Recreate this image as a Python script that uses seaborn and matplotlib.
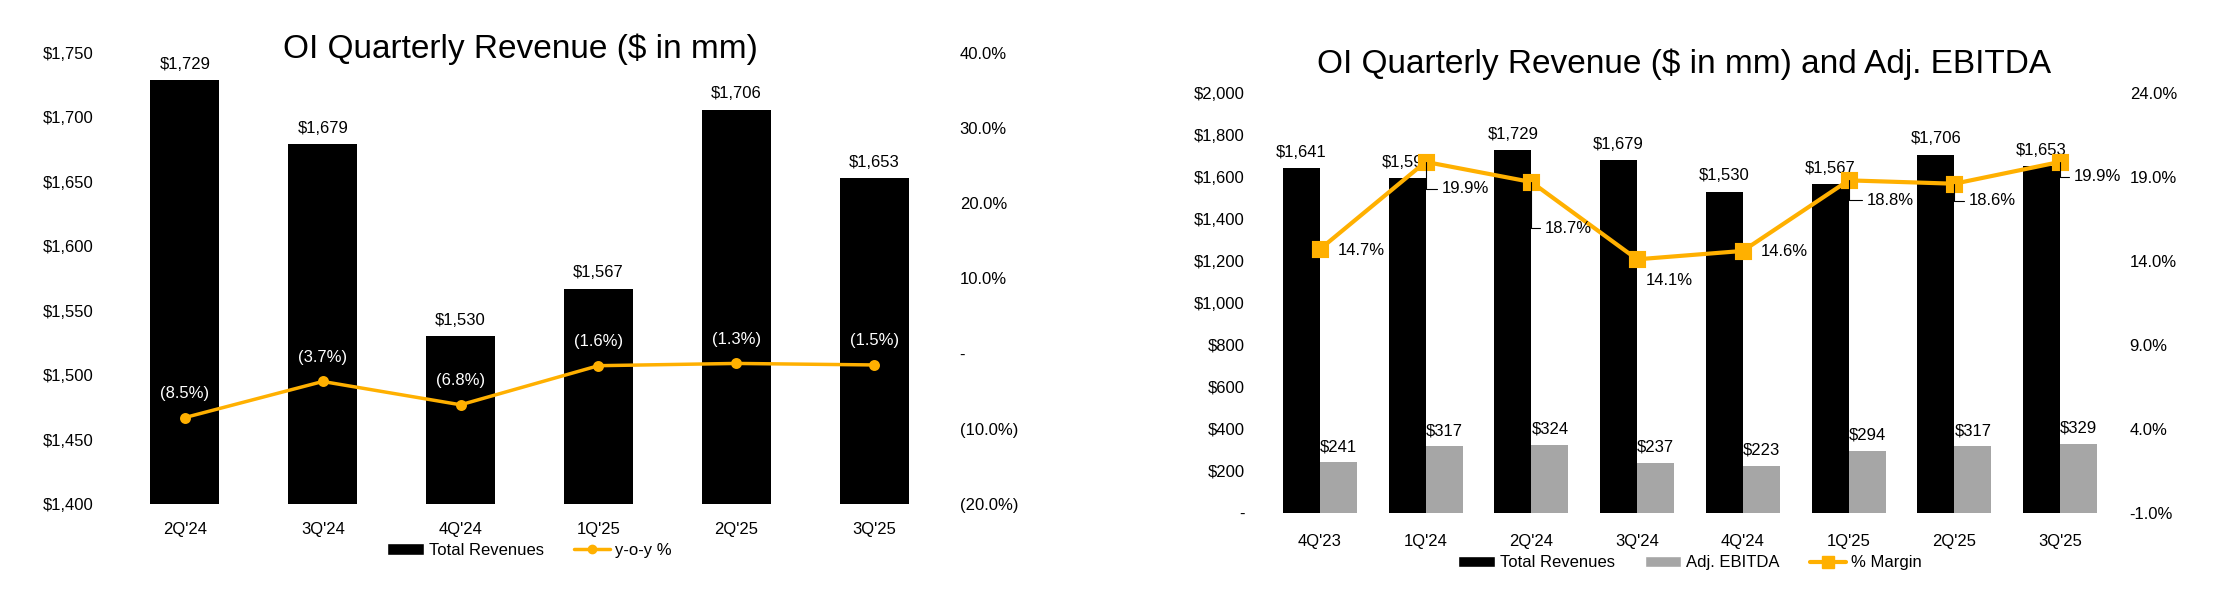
import matplotlib
matplotlib.use("Agg")
import matplotlib.pyplot as plt
from matplotlib.patches import Patch
from matplotlib.lines import Line2D
from matplotlib.ticker import FixedLocator, FuncFormatter
import pandas as pd
import seaborn as sns

# left chart: quarterly revenue and y-o-y change
quarters_l = ["2Q'24", "3Q'24", "4Q'24", "1Q'25", "2Q'25", "3Q'25"]
revenue_l = [1729, 1679, 1530, 1567, 1706, 1653]
yoy_pct = [-8.5, -3.7, -6.8, -1.6, -1.3, -1.5]

# right chart: revenue, adj. EBITDA and margin
quarters_r = ["4Q'23", "1Q'24", "2Q'24", "3Q'24", "4Q'24", "1Q'25", "2Q'25", "3Q'25"]
revenue_r = [1641, 1593, 1729, 1679, 1530, 1567, 1706, 1653]
ebitda_r = [241, 317, 324, 237, 223, 294, 317, 329]
margin_pct = [14.7, 19.9, 18.7, 14.1, 14.6, 18.8, 18.6, 19.9]

ORANGE = "#FFB000"
GRAY = "#A6A6A6"

sns.set_theme(style="white")
plt.rcParams["font.family"] = ["Liberation Sans", "DejaVu Sans"]
plt.rcParams["text.color"] = "black"
plt.rcParams["xtick.color"] = "black"
plt.rcParams["ytick.color"] = "black"

W, H = 2224, 613
fig = plt.figure(figsize=(W / 100, H / 100), dpi=100)


def box(x0, y0, x1, y1):
    # pixel box (top-left origin) -> figure fraction rect
    return [x0 / W, 1 - y1 / H, (x1 - x0) / W, (y1 - y0) / H]


def money(v, pos=None):
    return "-" if v == 0 else f"${v:,.0f}"


def paren_pct(v, pos=None):
    if abs(v) < 1e-9:
        return "-"
    return f"({abs(v):.1f}%)" if v < 0 else f"{v:.1f}%"


def clean(a):
    for sp in a.spines.values():
        sp.set_visible(False)
    a.set_xlabel("")
    a.set_ylabel("")


# ---------------- left chart ----------------
ax = fig.add_axes(box(116, 53, 943, 504))
sns.barplot(x=quarters_l, y=revenue_l, color="black", saturation=1, width=0.5,
            linewidth=0, ax=ax)
ax.set_ylim(1400, 1750)
ax.yaxis.set_major_locator(FixedLocator(range(1400, 1751, 50)))
ax.yaxis.set_major_formatter(FuncFormatter(money))
ax.bar_label(ax.containers[0], labels=[f"${v:,}" for v in revenue_l], padding=6, fontsize=12)

ax2 = ax.twinx()
sns.pointplot(x=quarters_l, y=yoy_pct, color=ORANGE, markers="o", markersize=6,
              linewidth=2.5, ax=ax2)
ax2.set_ylim(-20, 40)
ax2.yaxis.set_major_locator(FixedLocator(range(-20, 41, 10)))
ax2.yaxis.set_major_formatter(FuncFormatter(paren_pct))
for i, v in enumerate(yoy_pct):
    ax2.annotate(paren_pct(v), (i, v), xytext=(0, 24), textcoords="offset pixels",
                 ha="center", va="center", color="white", fontsize=12)

for a in (ax, ax2):
    clean(a)
    a.set_xlim(-0.5, len(quarters_l) - 0.5)
ax.tick_params(axis="y", length=0, labelsize=12, pad=16)
ax.tick_params(axis="x", length=0, labelsize=12, pad=13)
ax2.tick_params(axis="y", length=0, labelsize=12, pad=12)

ax2.legend(handles=[Patch(facecolor="black", label="Total Revenues"),
                    Line2D([0], [0], color=ORANGE, lw=2.5, marker="o", ms=6, label="y-o-y %")],
           loc="center", bbox_to_anchor=(0.5, -0.102), ncol=2, frameon=False, fontsize=12,
           handlelength=2.2, handletextpad=0.3, columnspacing=1.8)
fig.text(520 / W, 1 - 49 / H, "OI Quarterly Revenue ($ in mm)", ha="center", va="center",
         fontsize=24)

# ---------------- right chart ----------------
bx = fig.add_axes(box(1267, 93, 2113, 513))
df = pd.DataFrame({
    "Quarter": quarters_r * 2,
    "Value": revenue_r + ebitda_r,
    "Series": ["Total Revenues"] * len(quarters_r) + ["Adj. EBITDA"] * len(quarters_r),
})
sns.barplot(data=df, x="Quarter", y="Value", hue="Series", palette=["black", GRAY],
            saturation=1, width=0.7, linewidth=0, legend=False, ax=bx)
bx.set_ylim(0, 2000)
bx.yaxis.set_major_locator(FixedLocator(range(0, 2001, 200)))
bx.yaxis.set_major_formatter(FuncFormatter(money))
bx.bar_label(bx.containers[0], labels=[f"${v:,}" for v in revenue_r], padding=6, fontsize=12)
bx.bar_label(bx.containers[1], labels=[f"${v:,}" for v in ebitda_r], padding=6, fontsize=12)

bx2 = bx.twinx()
sns.pointplot(x=quarters_r, y=margin_pct, color=ORANGE, markers="s", markersize=10,
              linewidth=3, ax=bx2)
bx2.set_ylim(-1, 24)
bx2.yaxis.set_major_locator(FixedLocator(range(-1, 25, 5)))
bx2.yaxis.set_major_formatter(FuncFormatter(lambda v, p: f"{v:.1f}%"))

# label offsets (pixels) and whether a leader line is drawn
offsets = [(18, -1), (16, -27), (13, -46), (9, -21), (18, -1), (18, -20), (14, -17), (14, -15)]
leaders = [False, True, True, False, False, True, True, True]
for i, v in enumerate(margin_pct):
    dx, dy = offsets[i]
    kw = {}
    if leaders[i]:
        kw["arrowprops"] = dict(arrowstyle="-", color="black", lw=0.8, shrinkA=1, shrinkB=0,
                                relpos=(0, 0.5),
                                connectionstyle="angle,angleA=0,angleB=90,rad=0")
    bx2.annotate(f"{v:.1f}%", (i, v), xytext=(dx, dy), textcoords="offset pixels",
                 ha="left", va="center", fontsize=12, **kw)

for a in (bx, bx2):
    clean(a)
    a.set_xlim(-0.5, len(quarters_r) - 0.5)
bx.tick_params(axis="y", length=0, labelsize=12, pad=16)
bx.tick_params(axis="x", length=0, labelsize=12, pad=15)
bx2.tick_params(axis="y", length=0, labelsize=12, pad=12)

bx2.legend(handles=[Patch(facecolor="black", label="Total Revenues"),
                    Patch(facecolor=GRAY, label="Adj. EBITDA"),
                    Line2D([0], [0], color=ORANGE, lw=3, marker="s", ms=8, label="% Margin")],
           loc="center", bbox_to_anchor=(0.5, -0.119), ncol=3, frameon=False, fontsize=12,
           handlelength=2.2, handletextpad=0.3, columnspacing=1.8)
fig.text(1684 / W, 1 - 64.5 / H, "OI Quarterly Revenue ($ in mm) and Adj. EBITDA",
         ha="center", va="center", fontsize=24)

fig.savefig("out.png", dpi=100)
